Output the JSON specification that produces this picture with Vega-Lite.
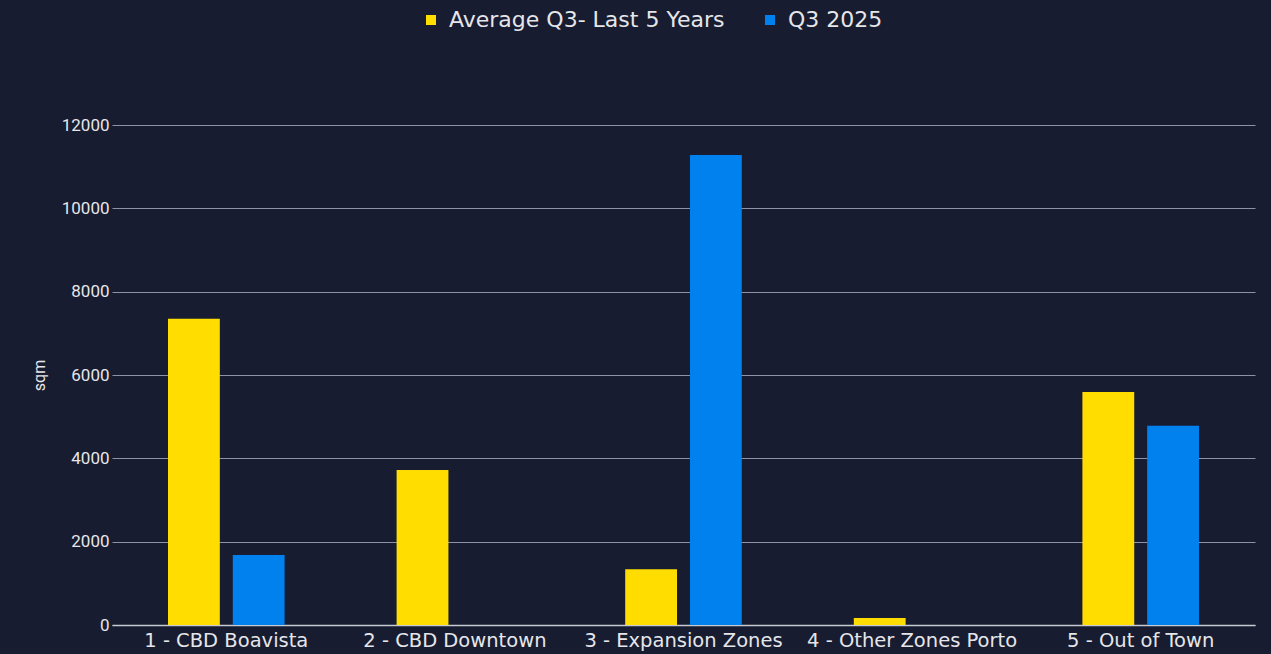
{
  "$schema": "https://vega.github.io/schema/vega-lite/v6.json",
  "autosize": {"type": "none"},
  "width": 1143,
  "height": 500,
  "padding": {"left": 112, "top": 125, "right": 16, "bottom": 29},
  "background": "#171c30",
  "config": {
    "view": {"stroke": null},
    "font": "DejaVu Sans"
  },
  "data": {
    "values": [
      {"zone": "1 - CBD Boavista", "series": "Average Q3- Last 5 Years", "sqm": 7350},
      {"zone": "1 - CBD Boavista", "series": "Q3 2025", "sqm": 1680},
      {"zone": "2 - CBD Downtown", "series": "Average Q3- Last 5 Years", "sqm": 3720},
      {"zone": "2 - CBD Downtown", "series": "Q3 2025", "sqm": 0},
      {"zone": "3 - Expansion Zones", "series": "Average Q3- Last 5 Years", "sqm": 1340},
      {"zone": "3 - Expansion Zones", "series": "Q3 2025", "sqm": 11280},
      {"zone": "4 - Other Zones Porto", "series": "Average Q3- Last 5 Years", "sqm": 170},
      {"zone": "4 - Other Zones Porto", "series": "Q3 2025", "sqm": 0},
      {"zone": "5 - Out of Town", "series": "Average Q3- Last 5 Years", "sqm": 5590},
      {"zone": "5 - Out of Town", "series": "Q3 2025", "sqm": 4780}
    ]
  },
  "mark": {"type": "bar"},
  "encoding": {
    "x": {
      "field": "zone",
      "type": "nominal",
      "sort": null,
      "scale": {"paddingInner": 0.49, "paddingOuter": 0.245},
      "axis": {
        "title": null,
        "labelAngle": 0,
        "labelFontSize": 19.5,
        "labelColor": "#e6e6ea",
        "labelPadding": 6,
        "labelLimit": 400,
        "ticks": false,
        "domainColor": "#c8cad2",
        "domainWidth": 1.5,
        "labelFont": "DejaVu Sans"
      }
    },
    "xOffset": {
      "field": "series",
      "type": "nominal",
      "scale": {"paddingInner": 0.2, "paddingOuter": 0}
    },
    "y": {
      "field": "sqm",
      "type": "quantitative",
      "scale": {"domain": [0, 12000], "nice": false},
      "axis": {
        "title": "sqm",
        "titleColor": "#e6e6ea",
        "titleFontSize": 16,
        "titleFontWeight": "normal",
        "titlePadding": 14,
        "titleFont": "Roboto",
        "values": [0, 2000, 4000, 6000, 8000, 10000, 12000],
        "format": "d",
        "labelFontSize": 17,
        "labelColor": "#e6e6ea",
        "labelFont": "Roboto",
        "labelPadding": 3,
        "ticks": false,
        "domain": false,
        "grid": true,
        "gridColor": "#8d92a6",
        "gridWidth": 1
      }
    },
    "color": {
      "field": "series",
      "type": "nominal",
      "scale": {"domain": ["Average Q3- Last 5 Years", "Q3 2025"], "range": ["#ffdd00", "#0081ee"]},
      "legend": {
        "title": null,
        "orient": "none",
        "direction": "horizontal",
        "legendX": 308,
        "legendY": -116,
        "symbolType": "square",
        "symbolSize": 100,
        "symbolStrokeWidth": 0,
        "labelFontSize": 22,
        "labelColor": "#e6e6ea",
        "labelFont": "DejaVu Sans",
        "labelLimit": 500,
        "columnPadding": 34,
        "labelOffset": 7
      }
    }
  }
}
